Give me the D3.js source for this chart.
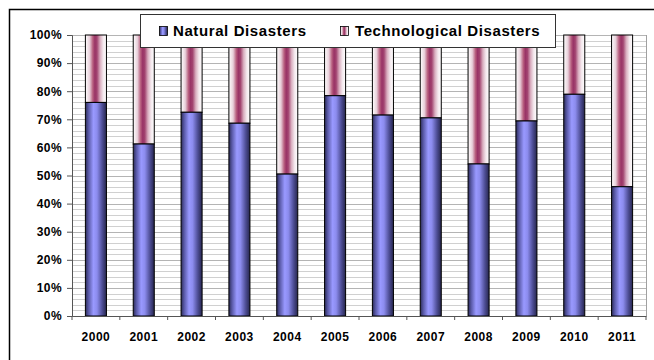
<!DOCTYPE html>
<html><head><meta charset="utf-8">
<script src="https://cdn.jsdelivr.net/npm/d3@7"></script>
<style>body{margin:0;background:#fff}svg{display:block;font-family:"Liberation Sans",Arial,sans-serif}</style>
</head><body>
<svg id="c" width="654" height="360"></svg>
<script>
const years = ["2000","2001","2002","2003","2004","2005","2006","2007","2008","2009","2010","2011"];
const natural = [76.0,61.2,72.5,68.6,50.5,78.4,71.5,70.5,54.1,69.4,78.9,46.0];
const technological = natural.map(v => 100 - v);
const seriesNames = ["Natural Disasters","Technological Disasters"];
const yTicks = [0,10,20,30,40,50,60,70,80,90,100];

const svg = d3.select("#c");
const m = {l:72, r:646, t:35, b:316};
const x = d3.scaleBand().domain(years).range([m.l, m.r]).paddingInner(0.56).paddingOuter(0.28);
const y = d3.scaleLinear().domain([0,100]).range([m.b, m.t]);

const defs = svg.append("defs");
const gN = defs.append("linearGradient").attr("id","gN");
[[0,"#2c2c58"],[0.15,"#5a5aa8"],[0.38,"#9999ff"],[0.55,"#8c8cee"],[0.8,"#4d4d94"],[1,"#26264d"]]
  .forEach(([o,c]) => gN.append("stop").attr("offset",o).attr("stop-color",c));
const gT = defs.append("linearGradient").attr("id","gT");
[[0,"#ffffff"],[0.2,"#e8d0da"],[0.35,"#b8607f"],[0.45,"#993366"],[0.55,"#a24470"],[0.7,"#d9aebf"],[0.85,"#f4e9ee"],[1,"#ffffff"]]
  .forEach(([o,c]) => gT.append("stop").attr("offset",o).attr("stop-color",c));

// outer chart border (clipped at right/bottom)
svg.append("rect").attr("x",9.5).attr("y",9.5).attr("width",700).attr("height",400)
  .attr("fill","none").attr("stroke","#000").attr("stroke-width",1.5);

// plot area
svg.append("rect").attr("x",m.l).attr("y",m.t).attr("width",m.r-m.l).attr("height",m.b-m.t).attr("fill","#fff");
const minor = d3.range(0,101,2);
svg.append("g").selectAll("line").data(minor).join("line")
  .attr("x1",m.l).attr("x2",m.r).attr("y1",d=>Math.round(y(d))+0.5).attr("y2",d=>Math.round(y(d))+0.5)
  .attr("stroke",d=> d%10===0 ? "#b4b4b4" : "#d0d0d0").attr("stroke-width",1);
svg.append("line").attr("x1",m.r+0.5).attr("x2",m.r+0.5).attr("y1",m.t).attr("y2",m.b).attr("stroke","#a0a0a0");

// bars
const bw = x.bandwidth();
const g = svg.append("g");
years.forEach((yr,i) => {
  const x0 = x(yr);
  g.append("rect").attr("x",x0).attr("y",y(100)).attr("width",bw).attr("height",y(natural[i])-y(100))
    .attr("fill","url(#gT)").attr("stroke","#000").attr("stroke-width",1);
  g.append("rect").attr("x",x0).attr("y",y(natural[i])).attr("width",bw).attr("height",y(0)-y(natural[i]))
    .attr("fill","url(#gN)").attr("stroke","#000").attr("stroke-width",1);
});

// axes
const yAxis = d3.axisLeft(y).tickValues(yTicks).tickFormat(d=>d+"%").tickSize(5).tickPadding(5);
const ya = svg.append("g").attr("transform",`translate(${m.l},0)`).call(yAxis);
ya.select(".domain").attr("stroke","#555");
ya.selectAll(".tick line").attr("stroke","#555");
ya.selectAll("text").attr("font-size",12).attr("font-weight","bold").attr("fill","#000").attr("letter-spacing",0.4);

const xa = svg.append("g").attr("transform",`translate(0,${m.b})`).call(d3.axisBottom(x).tickSize(0).tickPadding(16));
xa.select(".domain").attr("stroke","#555");
xa.selectAll("text").attr("font-size",12).attr("font-weight","bold").attr("fill","#000").attr("letter-spacing",0.5);
const step = x.step();
svg.append("g").selectAll("line").data(d3.range(0,13)).join("line")
  .attr("x1",d=>m.l + d*(m.r-m.l)/12).attr("x2",d=>m.l + d*(m.r-m.l)/12)
  .attr("y1",m.b).attr("y2",m.b+4).attr("stroke","#555");

// legend
const lg = svg.append("g");
lg.append("rect").attr("x",140.5).attr("y",14.5).attr("width",415).attr("height",33)
  .attr("fill","#fff").attr("stroke","#333").attr("stroke-width",1);
const items = [{name:seriesNames[0], fill:"url(#gN)", sx:159, tx:173},{name:seriesNames[1], fill:"url(#gT)", sx:340, tx:355}];
items.forEach(it => {
  lg.append("rect").attr("x",it.sx+0.5).attr("y",26.5).attr("width",8).attr("height",9)
    .attr("fill",it.fill).attr("stroke","#000").attr("stroke-width",0.8);
  lg.append("text").attr("x",it.tx).attr("y",36).attr("font-size",15).attr("font-weight","bold")
    .attr("letter-spacing",0.6).text(it.name);
});
</script>
</body></html>
